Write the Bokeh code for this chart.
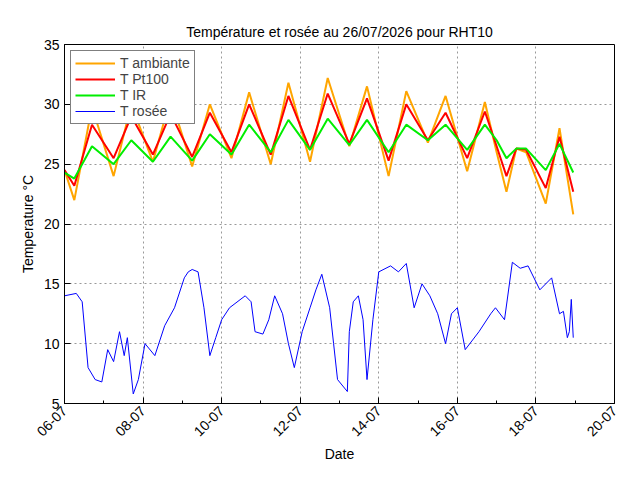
import numpy as np
from datetime import datetime, timedelta
from bokeh.plotting import figure
from bokeh.models import FixedTicker, DatetimeTickFormatter, Legend, LegendItem
from bokeh.embed import file_html
from bokeh.resources import INLINE

start = datetime(2026, 7, 6)
ext_days = [0.0, 0.25, 0.7, 1.25, 1.7, 2.25, 2.7, 3.25, 3.7, 4.25, 4.7, 5.25, 5.7, 6.25, 6.7,
            7.25, 7.7, 8.25, 8.7, 9.25, 9.7, 10.25, 10.7, 11.0, 11.25, 11.5, 11.75, 12.25, 12.6, 12.95]
t_amb = [24.5, 22.0, 29.8, 24.0, 30.0, 25.2, 30.5, 24.8, 30.0, 25.5, 31.0, 25.0, 31.8, 25.2, 32.2,
         26.5, 31.5, 24.0, 31.1, 26.8, 30.7, 24.4, 30.2, 26.0, 22.7, 26.3, 26.0, 21.7, 28.0, 20.8]
t_pt100 = [24.5, 23.2, 28.3, 25.5, 29.0, 25.8, 29.2, 25.6, 29.3, 26.0, 30.0, 25.8, 30.7, 26.2, 30.9,
           26.7, 30.5, 25.3, 30.0, 27.0, 29.3, 25.5, 29.4, 26.5, 24.0, 26.3, 26.2, 23.0, 27.3, 22.7]
t_ir = [24.3, 23.8, 26.5, 25.0, 27.0, 25.2, 27.3, 25.3, 27.5, 25.8, 28.3, 26.0, 28.7, 26.2, 28.8,
        26.6, 28.7, 26.0, 28.3, 27.0, 28.3, 26.2, 28.3, 27.0, 25.5, 26.3, 26.3, 24.5, 26.7, 24.3]

dew_days = [0.0, 0.3, 0.45, 0.6, 0.78, 0.95, 1.1, 1.25, 1.4, 1.52, 1.6, 1.75, 1.88, 2.05, 2.3, 2.55,
            2.8, 3.05, 3.15, 3.25, 3.4, 3.55, 3.7, 3.85, 4.0, 4.2, 4.6, 4.75, 4.85, 5.05, 5.2, 5.35,
            5.55, 5.7, 5.85, 6.05, 6.25, 6.4, 6.55, 6.75, 6.85, 6.95, 7.2, 7.25, 7.35, 7.48, 7.6,
            7.7, 7.85, 8.0, 8.3, 8.5, 8.7, 8.9, 9.1, 9.3, 9.5, 9.7, 9.85, 10.0, 10.2, 10.55, 10.85,
            10.97, 11.2, 11.4, 11.6, 11.8, 12.1, 12.4, 12.6, 12.7, 12.8, 12.85, 12.9, 12.95]
t_dew = [14.0, 14.2, 13.5, 8.0, 7.0, 6.8, 9.5, 8.5, 11.0, 9.0, 10.5, 5.8, 7.0, 10.0, 9.0, 11.5,
         13.0, 15.5, 16.0, 16.2, 16.0, 13.0, 9.0, 10.5, 12.0, 13.0, 14.0, 13.5, 11.0, 10.8, 12.0,
         14.0, 12.5, 10.0, 8.0, 11.0, 13.0, 14.5, 15.8, 13.0, 10.0, 7.0, 6.0, 11.0, 13.5, 14.0,
         12.0, 7.0, 12.0, 16.0, 16.5, 16.0, 16.7, 13.0, 15.0, 14.0, 12.5, 10.0, 12.5, 13.0, 9.5,
         11.0, 12.5, 13.0, 12.0, 16.8, 16.3, 16.5, 14.5, 15.5, 12.5, 12.7, 10.5, 11.0, 13.7, 10.5]

def to_dt(days):
    return [start + timedelta(days=d) for d in days]

p = figure(width=624, height=464, x_axis_type="datetime", output_backend="svg",
           toolbar_location=None, y_range=(5, 35),
           x_range=(start, start + timedelta(days=14)),
           title="Température et rosée au 26/07/2026 pour RHT10")
p.min_border_left = 64
p.min_border_right = 10
p.min_border_top = 44
p.min_border_bottom = 54
p.title.align = "center"
p.title.text_font = "Liberation Sans"
p.title.text_font_style = "normal"
p.title.text_font_size = "14px"
p.title.text_color = "black"
p.outline_line_color = "black"
p.outline_line_width = 1

r1 = p.line(to_dt(ext_days), t_amb, color="orange", line_width=2)
r2 = p.line(to_dt(ext_days), t_pt100, color="red", line_width=2)
r3 = p.line(to_dt(ext_days), t_ir, color="#00ee00", line_width=2)
r4 = p.line(to_dt(dew_days), t_dew, color="blue", line_width=1)

ticks = [(start + timedelta(days=2 * i) - datetime(1970, 1, 1)).total_seconds() * 1000 for i in range(8)]
minor = [(start + timedelta(days=i) - datetime(1970, 1, 1)).total_seconds() * 1000 for i in range(15)]
p.xaxis.ticker = FixedTicker(ticks=ticks, minor_ticks=minor)
p.xaxis.formatter = DatetimeTickFormatter(days="%d-%m", months="%d-%m", hours="%d-%m")
p.xaxis.major_label_orientation = np.pi / 4
p.yaxis.ticker = FixedTicker(ticks=[5, 10, 15, 20, 25, 30, 35])
for ax in (p.xaxis, p.yaxis):
    ax.axis_line_color = "black"
    ax.major_tick_in = 6
    ax.major_tick_out = 0
    ax.minor_tick_in = 3
    ax.minor_tick_out = 0
    ax.major_label_text_font = "Liberation Sans"
    ax.major_label_text_font_size = "14px"
    ax.major_label_text_color = "black"
    ax.axis_label_text_font = "Liberation Sans"
    ax.axis_label_text_font_size = "14px"
    ax.axis_label_text_font_style = "normal"
    ax.axis_label_text_color = "black"
p.xaxis.axis_label = "Date"
p.xaxis.axis_label_standoff = 2
p.yaxis.axis_label = "Temperature °C"
p.yaxis.minor_tick_line_color = None
p.grid.grid_line_color = "#999999"
p.grid.grid_line_dash = "2 3"

leg = Legend(items=[LegendItem(label="T ambiante", renderers=[r1]),
                    LegendItem(label="T Pt100", renderers=[r2]),
                    LegendItem(label="T IR", renderers=[r3]),
                    LegendItem(label="T rosée", renderers=[r4])],
             location="top_left", border_line_color="black", border_line_width=1,
             label_text_font="Liberation Sans", label_text_font_size="14px",
             glyph_width=40, label_height=14, glyph_height=14, spacing=0,
             padding=4, margin=6, background_fill_alpha=1)
p.add_layout(leg)

open("out.html", "w").write(file_html(p, INLINE))
